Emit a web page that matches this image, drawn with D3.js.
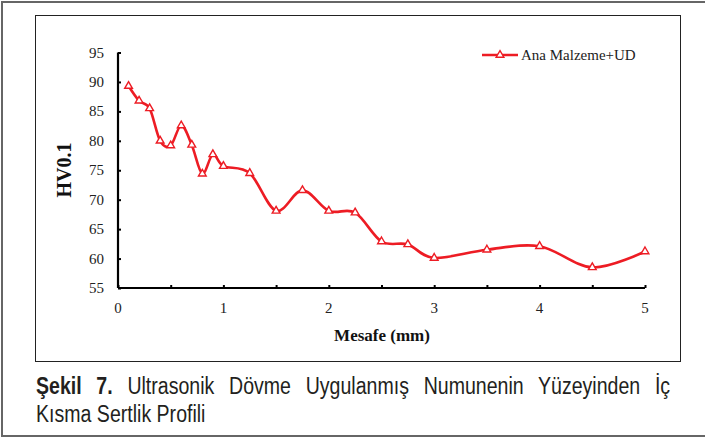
<!DOCTYPE html>
<html>
<head>
<meta charset="utf-8">
<script src="https://cdn.jsdelivr.net/npm/d3@7"></script>
<style>
  body { margin: 0; background: #fff; }
  #wrap { position: relative; width: 705px; height: 440px; overflow: hidden; }
  #caption {
    position: absolute; left: 36px; top: 372px; width: 746px;
    transform: scaleX(0.85); transform-origin: 0 0;
    font-family: "Liberation Sans", Arial, sans-serif;
    font-size: 23px; line-height: 28px; color: #231f20;
  }
  #caption .l1 { text-align: justify; text-align-last: justify; white-space: nowrap; }
</style>
</head>
<body>
<div id="wrap"></div>
<script>
// hardness profile
const distance = [0.1, 0.2, 0.3, 0.4, 0.5, 0.6, 0.7, 0.8, 0.9, 1.0, 1.25, 1.5, 1.75, 2.0, 2.25, 2.5, 2.75, 3.0, 3.5, 4.0, 4.5, 5.0];
const hardness = [89.3, 86.8, 85.5, 80.0, 79.2, 82.6, 79.3, 74.4, 77.7, 75.7, 74.5, 68.1, 71.6, 68.1, 67.8, 62.9, 62.4, 60.1, 61.5, 62.1, 58.5, 61.2];
const yTicks = [55, 60, 65, 70, 75, 80, 85, 90, 95];
const xTicks = [0, 1, 2, 3, 4, 5];
const xMinorTicks = [0, 0.5, 1, 1.5, 2, 2.5, 3, 3.5, 4, 4.5, 5];
const seriesName = "Ana Malzeme+UD";
const captionLines = ["Ultrasonik Dövme Uygulanmış Numunenin Yüzeyinden İç", "Kısma Sertlik Profili"];

const data = distance.map((d, i) => ({x: d, y: hardness[i]}));

const red = "#ed1c24";
const serif = "'Liberation Serif', 'Times New Roman', serif";

const svg = d3.select("#wrap")
  .append("svg")
    .attr("width", 705)
    .attr("height", 440)
    .style("position", "absolute")
    .style("left", 0)
    .style("top", 0);

// page frame (top, left, bottom)
svg.append("path")
  .attr("d", "M705,2 H2 V436 H705")
  .attr("fill", "none")
  .attr("stroke", "#666")
  .attr("stroke-width", 2);

// chart box
svg.append("rect")
  .attr("x", 35.5).attr("y", 15.5)
  .attr("width", 645).attr("height", 346)
  .attr("fill", "none")
  .attr("stroke", "#222")
  .attr("stroke-width", 1);

const x = d3.scaleLinear().domain([0, 5]).range([118, 645]);
const y = d3.scaleLinear().domain([55, 95]).range([288, 52.5]);

// Y axis
const yAxis = svg.append("g")
  .attr("transform", "translate(118,0)")
  .call(d3.axisRight(y).tickValues(yTicks).tickSize(3).tickFormat(""));
yAxis.select(".domain").attr("stroke", "#000").attr("stroke-width", 2.2).attr("d", `M0,${y(95)}V${y(55)}`);
yAxis.selectAll(".tick line").attr("stroke", "#000").attr("stroke-width", 2);
svg.append("g").selectAll("text")
  .data(yTicks)
  .join("text")
    .attr("x", 104)
    .attr("y", d => y(d) + 5)
    .attr("text-anchor", "end")
    .style("font-family", serif)
    .style("font-size", "15px")
    .attr("fill", "#222")
    .text(d => d);

// X axis
const xAxis = svg.append("g")
  .attr("transform", "translate(0,288)")
  .call(d3.axisTop(x).tickValues(xMinorTicks).tickSize(3).tickFormat(""));
xAxis.select(".domain").attr("stroke", "#000").attr("stroke-width", 2.2).attr("d", `M${x(0)},0H${x(5)}`);
xAxis.selectAll(".tick line").attr("stroke", "#000").attr("stroke-width", 2);
svg.append("g").selectAll("text")
  .data(xTicks)
  .join("text")
    .attr("x", d => x(d))
    .attr("y", 313)
    .attr("text-anchor", "middle")
    .style("font-family", serif)
    .style("font-size", "15px")
    .attr("fill", "#222")
    .text(d => d);

// axis titles
svg.append("text")
  .attr("x", 382)
  .attr("y", 341)
  .attr("text-anchor", "middle")
  .style("font-family", serif)
  .style("font-size", "17px")
  .style("font-weight", "bold")
  .attr("fill", "#111")
  .text("Mesafe (mm)");

svg.append("text")
  .attr("transform", "translate(71,170) rotate(-90)")
  .attr("text-anchor", "middle")
  .style("font-family", serif)
  .style("font-size", "20px")
  .style("font-weight", "bold")
  .attr("fill", "#111")
  .text("HV0.1");

// smoothed line
const line = d3.line()
  .x(d => x(d.x))
  .y(d => y(d.y))
  .curve(d3.curveCardinal.tension(0));

svg.append("path")
  .datum(data)
  .attr("fill", "none")
  .attr("stroke", red)
  .attr("stroke-width", 2.6)
  .attr("d", line);

const tri = d3.symbol().type(d3.symbolTriangle).size(26);

svg.append("g")
  .selectAll("path")
  .data(data)
  .join("path")
    .attr("transform", d => `translate(${x(d.x)},${y(d.y)})`)
    .attr("d", tri)
    .attr("fill", "#fff")
    .attr("stroke", red)
    .attr("stroke-width", 1.4);

// legend
const legend = svg.append("g");
legend.append("line")
  .attr("x1", 482).attr("x2", 518)
  .attr("y1", 55).attr("y2", 55)
  .attr("stroke", red)
  .attr("stroke-width", 2.6);
legend.append("path")
  .attr("transform", "translate(500,55)")
  .attr("d", tri)
  .attr("fill", "#fff")
  .attr("stroke", red)
  .attr("stroke-width", 1.4);
legend.append("text")
  .attr("x", 521)
  .attr("y", 60)
  .style("font-family", serif)
  .style("font-size", "15px")
  .attr("fill", "#222")
  .text(seriesName);

// caption: first line justified to the box width, second line left
const cap = d3.select("#wrap").append("div").attr("id", "caption");
const l1 = cap.append("div").attr("class", "l1");
l1.append("b").text("Şekil 7.");
l1.append("span").text(" " + captionLines[0]);
cap.append("div").text(captionLines[1]);
</script>
</body>
</html>
